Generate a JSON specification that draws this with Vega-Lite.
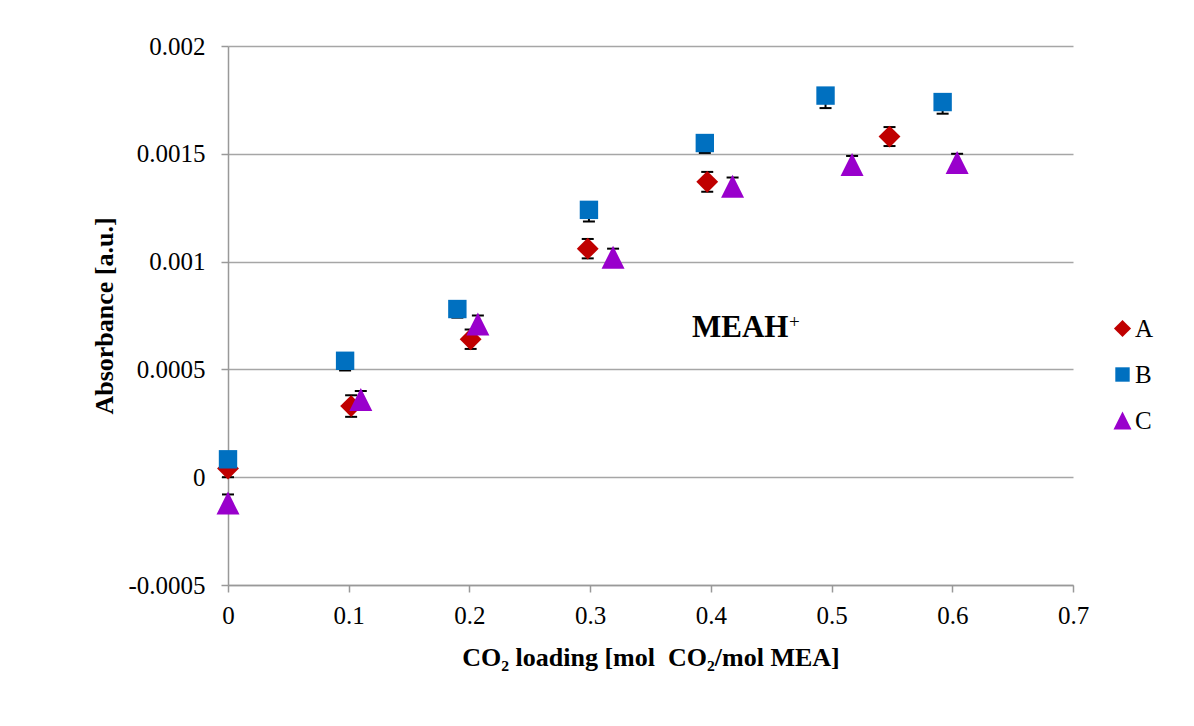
{
  "$schema": "https://vega.github.io/schema/vega-lite/v6.json",
  "autosize": {"type": "none"},
  "width": 845,
  "height": 539,
  "padding": {"left": 228, "top": 46, "right": 121, "bottom": 141},
  "background": "white",
  "config": {
    "font": "Liberation Serif",
    "view": {"stroke": null},
    "axis": {
      "labelFont": "Liberation Serif",
      "labelFontSize": 25,
      "labelColor": "black",
      "labelFlush": false,
      "titleFont": "Liberation Serif",
      "titleFontSize": 26,
      "titleFontWeight": "bold",
      "titleColor": "black",
      "domainColor": "#999999",
      "domainWidth": 1.5,
      "tickColor": "#999999",
      "tickWidth": 1.5,
      "tickSize": 7,
      "gridColor": "#a6a6a6",
      "gridWidth": 1.5
    },
    "legend": {
      "labelFont": "Liberation Serif",
      "labelFontSize": 25,
      "labelColor": "black"
    }
  },
  "datasets": {
    "absorbance": [
      {"series": "A", "loading": 0.0, "absorbance": 0.00004, "lo": 0.0, "hi": 0.00008},
      {"series": "A", "loading": 0.102, "absorbance": 0.00033, "lo": 0.00028, "hi": 0.00038},
      {"series": "A", "loading": 0.201, "absorbance": 0.00064, "lo": 0.000595, "hi": 0.000685},
      {"series": "A", "loading": 0.298, "absorbance": 0.00106, "lo": 0.001015, "hi": 0.001105},
      {"series": "A", "loading": 0.397, "absorbance": 0.00137, "lo": 0.001324, "hi": 0.001416},
      {"series": "A", "loading": 0.548, "absorbance": 0.00158, "lo": 0.001536, "hi": 0.001624},
      {"series": "B", "loading": 0.0, "absorbance": 0.000083, "lo": 0.00005, "hi": 0.000083},
      {"series": "B", "loading": 0.097, "absorbance": 0.00054, "lo": 0.000495, "hi": 0.00054},
      {"series": "B", "loading": 0.19, "absorbance": 0.00078, "lo": 0.00074, "hi": 0.00078},
      {"series": "B", "loading": 0.299, "absorbance": 0.00124, "lo": 0.001186, "hi": 0.00124},
      {"series": "B", "loading": 0.395, "absorbance": 0.00155, "lo": 0.001504, "hi": 0.00155},
      {"series": "B", "loading": 0.495, "absorbance": 0.00177, "lo": 0.001712, "hi": 0.00177},
      {"series": "B", "loading": 0.592, "absorbance": 0.00174, "lo": 0.001686, "hi": 0.00174},
      {"series": "C", "loading": 0.0, "absorbance": -0.00012, "lo": -0.00016, "hi": -0.00008},
      {"series": "C", "loading": 0.11, "absorbance": 0.00036, "lo": 0.00032, "hi": 0.0004},
      {"series": "C", "loading": 0.207, "absorbance": 0.00071, "lo": 0.00067, "hi": 0.00075},
      {"series": "C", "loading": 0.319, "absorbance": 0.00102, "lo": 0.00098, "hi": 0.00106},
      {"series": "C", "loading": 0.418, "absorbance": 0.00135, "lo": 0.00131, "hi": 0.00139},
      {"series": "C", "loading": 0.517, "absorbance": 0.00145, "lo": 0.00141, "hi": 0.00149},
      {"series": "C", "loading": 0.604, "absorbance": 0.00146, "lo": 0.00142, "hi": 0.0015}
    ],
    "labels": [
      {"text": "MEAH", "loading": 0.3844, "absorbance": 0.00065, "part": "main"},
      {"text": "+", "loading": 0.4648, "absorbance": 0.00069, "part": "sup"}
    ]
  },
  "encoding": {
    "x": {
      "field": "loading",
      "type": "quantitative",
      "scale": {"domain": [0, 0.7], "nice": false, "zero": false},
      "axis": {
        "values": [0, 0.1, 0.2, 0.3, 0.4, 0.5, 0.6, 0.7],
        "labelExpr": "format(datum.value, '')",
        "grid": false,
        "labelPadding": 11,
        "titlePadding": 16,
        "title": "CO₂ loading [mol \u00a0CO₂/mol MEA]"
      }
    },
    "y": {
      "field": "absorbance",
      "type": "quantitative",
      "scale": {"domain": [-0.0005, 0.002], "nice": false, "zero": false},
      "axis": {
        "values": [-0.0005, 0, 0.0005, 0.001, 0.0015, 0.002],
        "labelExpr": "datum.value < 0 ? '-' + format(-datum.value, '') : format(datum.value, '')",
        "labelPadding": 16,
        "titlePadding": 10,
        "title": "Absorbance [a.u.]"
      }
    }
  },
  "layer": [
    {
      "data": {"name": "absorbance"},
      "mark": {"type": "rule", "color": "black", "strokeWidth": 2},
      "encoding": {
        "y": {"field": "lo", "type": "quantitative"},
        "y2": {"field": "hi"}
      }
    },
    {
      "data": {"name": "absorbance"},
      "mark": {"type": "tick", "orient": "horizontal", "color": "black", "size": 12, "thickness": 2, "opacity": 1},
      "encoding": {
        "y": {"field": "lo", "type": "quantitative"}
      }
    },
    {
      "data": {"name": "absorbance"},
      "transform": [{"filter": "datum.series != 'B'"}],
      "mark": {"type": "tick", "orient": "horizontal", "color": "black", "size": 12, "thickness": 2, "opacity": 1},
      "encoding": {
        "y": {"field": "hi", "type": "quantitative"}
      }
    },
    {
      "data": {"name": "absorbance"},
      "mark": {"type": "point", "filled": true, "opacity": 1, "size": 529, "strokeWidth": 0},
      "encoding": {
        "color": {
          "field": "series",
          "type": "nominal",
          "scale": {"domain": ["A", "B", "C"], "range": ["#C00000", "#0070C0", "#9900CC"]},
          "legend": {
            "title": null,
            "orient": "none",
            "legendX": 882,
            "legendY": 270,
            "padding": 0,
            "rowPadding": 20,
            "symbolSize": 324,
            "symbolStrokeWidth": 0,
            "labelOffset": 0
          }
        },
        "shape": {
          "field": "series",
          "type": "nominal",
          "scale": {
            "domain": ["A", "B", "C"],
            "range": [
              "M0,-0.95L0.95,0L0,0.95L-0.95,0Z",
              "M-0.8,-0.8H0.8V0.8H-0.8Z",
              "M0,-1L1,1L-1,1Z"
            ]
          }
        },
        "order": {"field": "series"}
      }
    },
    {
      "data": {"name": "labels"},
      "transform": [{"filter": "datum.part == 'main'"}],
      "mark": {"type": "text", "align": "left", "baseline": "alphabetic", "font": "Liberation Serif", "fontSize": 31, "fontWeight": "bold", "color": "black"},
      "encoding": {
        "text": {"field": "text"}
      }
    },
    {
      "data": {"name": "labels"},
      "transform": [{"filter": "datum.part == 'sup'"}],
      "mark": {"type": "text", "align": "left", "baseline": "alphabetic", "font": "Liberation Serif", "fontSize": 19, "color": "black"},
      "encoding": {
        "text": {"field": "text"}
      }
    }
  ]
}
